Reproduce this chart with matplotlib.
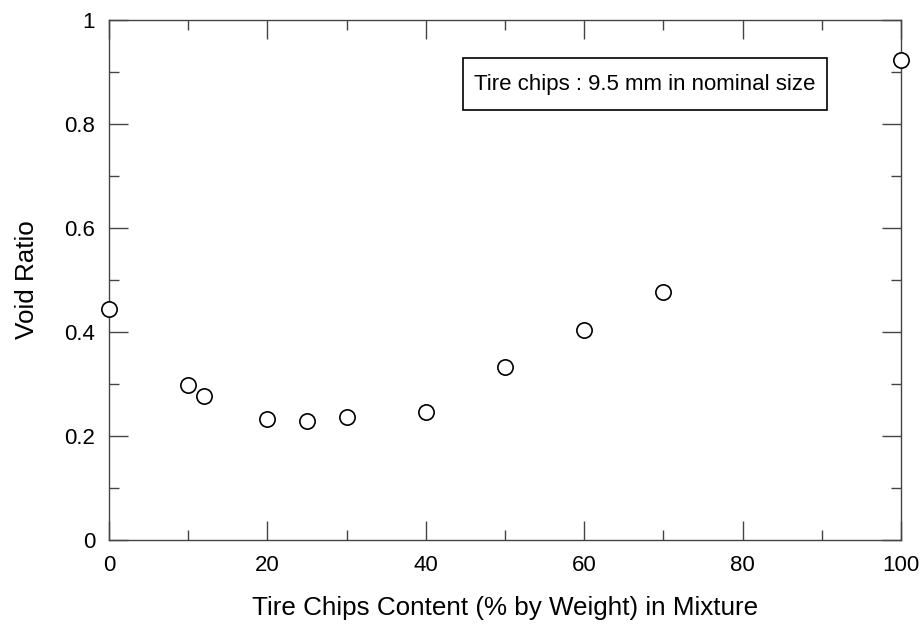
import numpy as np
import matplotlib.pyplot as plt
from matplotlib.patches import Rectangle
from matplotlib.ticker import MultipleLocator

plt.rcParams['font.family'] = ['Liberation Sans', 'DejaVu Sans']

# tire chip content (% by weight) and measured void ratio
chip_content = [0, 10, 12, 20, 25, 30, 40, 50, 60, 70, 100]
void_ratio = [0.445, 0.298, 0.276, 0.232, 0.228, 0.236, 0.246, 0.333, 0.403, 0.476, 0.923]

fig = plt.figure(figsize=(9.24, 6.35), dpi=100)
ax = fig.add_axes([109 / 924, 1 - 540 / 635, 792 / 924, 520 / 635])

ax.plot(chip_content, void_ratio, linestyle='none', marker='o', markersize=11,
        markerfacecolor='white', markeredgecolor='black', markeredgewidth=1.2,
        clip_on=False, zorder=5)

ax.set_xlim(0, 100)
ax.set_ylim(0, 1)
ax.xaxis.set_major_locator(MultipleLocator(20))
ax.xaxis.set_minor_locator(MultipleLocator(10))
ax.yaxis.set_minor_locator(MultipleLocator(0.1))
ax.set_yticks([0, 0.2, 0.4, 0.6, 0.8, 1.0])
ax.set_yticklabels(['0', '0.2', '0.4', '0.6', '0.8', '1'])

ax.tick_params(which='both', direction='in', top=True, right=True,
               color='#444444', labelsize=16)
ax.tick_params(which='major', length=13.5, width=1.0)
ax.tick_params(which='minor', length=7, width=1.0)
ax.tick_params(axis='x', which='major', pad=11)
ax.tick_params(axis='y', which='major', pad=10)
for sp in ax.spines.values():
    sp.set_color('#444444')
    sp.set_linewidth(1.0)

ax.set_xlabel('Tire Chips Content (% by Weight) in Mixture', fontsize=18.7, labelpad=14)
ax.set_ylabel('Void Ratio', fontsize=18.7, labelpad=18)

# note box: taller than the text, so frame and text are drawn separately
ax.add_patch(Rectangle((0.447, 0.826), 0.46, 0.1, transform=ax.transAxes,
                       facecolor='white', edgecolor='black', linewidth=1.2, zorder=3))
ax.text(0.677, 0.876, 'Tire chips : 9.5 mm in nominal size', transform=ax.transAxes,
        fontsize=16, va='center', ha='center', zorder=4)

fig.savefig('out.png', dpi=100)
